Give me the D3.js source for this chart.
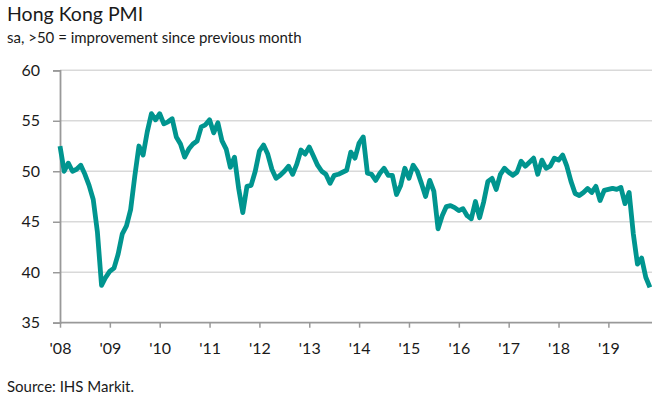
<!DOCTYPE html>
<html>
<head>
<meta charset="utf-8">
<script src="https://cdn.jsdelivr.net/npm/d3@7"></script>
<style>
  html, body { margin: 0; padding: 0; background: #fff; }
  svg { display: block; font-family: Lato, "Open Sans", sans-serif; }
</style>
</head>
<body>
<svg id="chart" width="668" height="402"></svg>
<script>
// Hong Kong PMI, monthly, Jan 2008 - Nov 2019
const startYear = 2008;
const pmi2008 = [52.5, 50.0, 50.8, 50.0, 50.2, 50.6, 49.7, 48.6, 47.2, 44.0, 38.7, 39.5];
const pmi2009 = [40.1, 40.4, 41.8, 43.8, 44.6, 46.2, 49.5, 52.5, 51.6, 53.9, 55.7, 55.1];
const pmi2010 = [55.7, 54.7, 54.9, 55.2, 53.4, 52.7, 51.4, 52.2, 52.7, 53.0, 54.4, 54.6];
const pmi2011 = [55.1, 53.8, 54.8, 53.0, 52.2, 50.4, 51.4, 48.3, 45.9, 48.5, 48.6, 50.0];
const pmi2012 = [52.0, 52.6, 51.7, 50.2, 49.3, 49.6, 50.0, 50.5, 49.7, 50.7, 52.1, 51.7];
const pmi2013 = [52.4, 51.5, 50.6, 50.0, 49.7, 48.8, 49.6, 49.7, 49.9, 50.1, 51.9, 51.3];
const pmi2014 = [52.8, 53.4, 49.8, 49.7, 49.1, 49.8, 50.3, 49.6, 49.6, 47.7, 48.6, 50.3];
const pmi2015 = [49.3, 50.6, 50.0, 48.8, 47.5, 49.1, 48.0, 44.3, 45.6, 46.5, 46.6, 46.4];
const pmi2016 = [46.1, 46.3, 45.6, 45.3, 47.0, 45.4, 47.0, 49.0, 49.3, 48.2, 49.7, 50.3];
const pmi2017 = [49.9, 49.6, 49.9, 51.0, 50.5, 50.9, 51.3, 49.7, 51.1, 50.3, 50.5, 51.3];
const pmi2018 = [51.1, 51.6, 50.5, 49.0, 47.8, 47.6, 47.9, 48.3, 47.9, 48.5, 47.1, 48.1];
const pmi2019 = [48.2, 48.3, 48.2, 48.4, 46.8, 47.9, 43.8, 40.8, 41.4, 39.5, 38.5];
const yTicks = [35, 40, 45, 50, 55, 60];
const yearLabels = ["'08", "'09", "'10", "'11", "'12", "'13", "'14", "'15", "'16", "'17", "'18", "'19"];

const series = [].concat(pmi2008, pmi2009, pmi2010, pmi2011, pmi2012, pmi2013,
  pmi2014, pmi2015, pmi2016, pmi2017, pmi2018, pmi2019);
const data = series.map((v, i) => ({ m: i, v: v }));

const svg = d3.select("#chart");
const x = d3.scaleLinear().domain([0, 142.5]).range([60, 652]);
const y = d3.scaleLinear().domain([35, 60]).range([322.7, 70.3]);

// title
svg.append("text").attr("x", 7).attr("y", 21).attr("fill", "#1a1a1a")
  .style("font-size", "19.5px").text("Hong Kong PMI");
svg.append("text").attr("x", 7).attr("y", 43).attr("fill", "#1a1a1a")
  .style("font-size", "15px").text("sa, >50 = improvement since previous month");

// gridlines
svg.append("g").selectAll("line").data(yTicks.filter(d => d > 35)).join("line")
  .attr("x1", x(0)).attr("x2", x(142.5))
  .attr("y1", d => y(d)).attr("y2", d => y(d))
  .attr("stroke", "#d9d9d9").attr("stroke-width", 1.5);

// y axis
const yAxis = svg.append("g").attr("transform", `translate(${x(0)},0)`)
  .call(d3.axisLeft(y).tickValues(yTicks).tickSize(7).tickPadding(13).tickFormat(d3.format("d")));
yAxis.select(".domain").attr("stroke", "#999").attr("stroke-width", 1.8);
yAxis.selectAll(".tick line").attr("stroke", "#999").attr("stroke-width", 1.5);
yAxis.selectAll(".tick text").attr("fill", "#1a1a1a").style("font-size", "16px")
  .style("font-family", "Lato, sans-serif");

// x axis
const xTickVals = yearLabels.map((d, i) => i * 12);
const xAxis = svg.append("g").attr("transform", `translate(0,${y(35)})`)
  .call(d3.axisBottom(x).tickValues(xTickVals).tickSize(5).tickSizeOuter(0)
    .tickFormat((d, i) => yearLabels[i]));
xAxis.select(".domain").attr("stroke", "#999").attr("stroke-width", 1.8)
  .attr("d", `M${x(0)},0H${x(142.5)}`);
xAxis.selectAll(".tick line").attr("stroke", "#999").attr("stroke-width", 1.5);
xAxis.selectAll(".tick text").attr("fill", "#1a1a1a").style("font-size", "16px")
  .style("font-family", "Lato, sans-serif").attr("y", 20).attr("dy", "0.71em");

// line
const line = d3.line().x(d => x(d.m)).y(d => y(d.v));
svg.append("path").datum(data).attr("d", line)
  .attr("fill", "none").attr("stroke", "#00958f").attr("stroke-width", 4.8)
  .attr("stroke-linejoin", "round").attr("stroke-linecap", "butt");

// source
svg.append("text").attr("x", 7).attr("y", 392).attr("fill", "#1a1a1a")
  .style("font-size", "15px").text("Source: IHS Markit.");
</script>
</body>
</html>
